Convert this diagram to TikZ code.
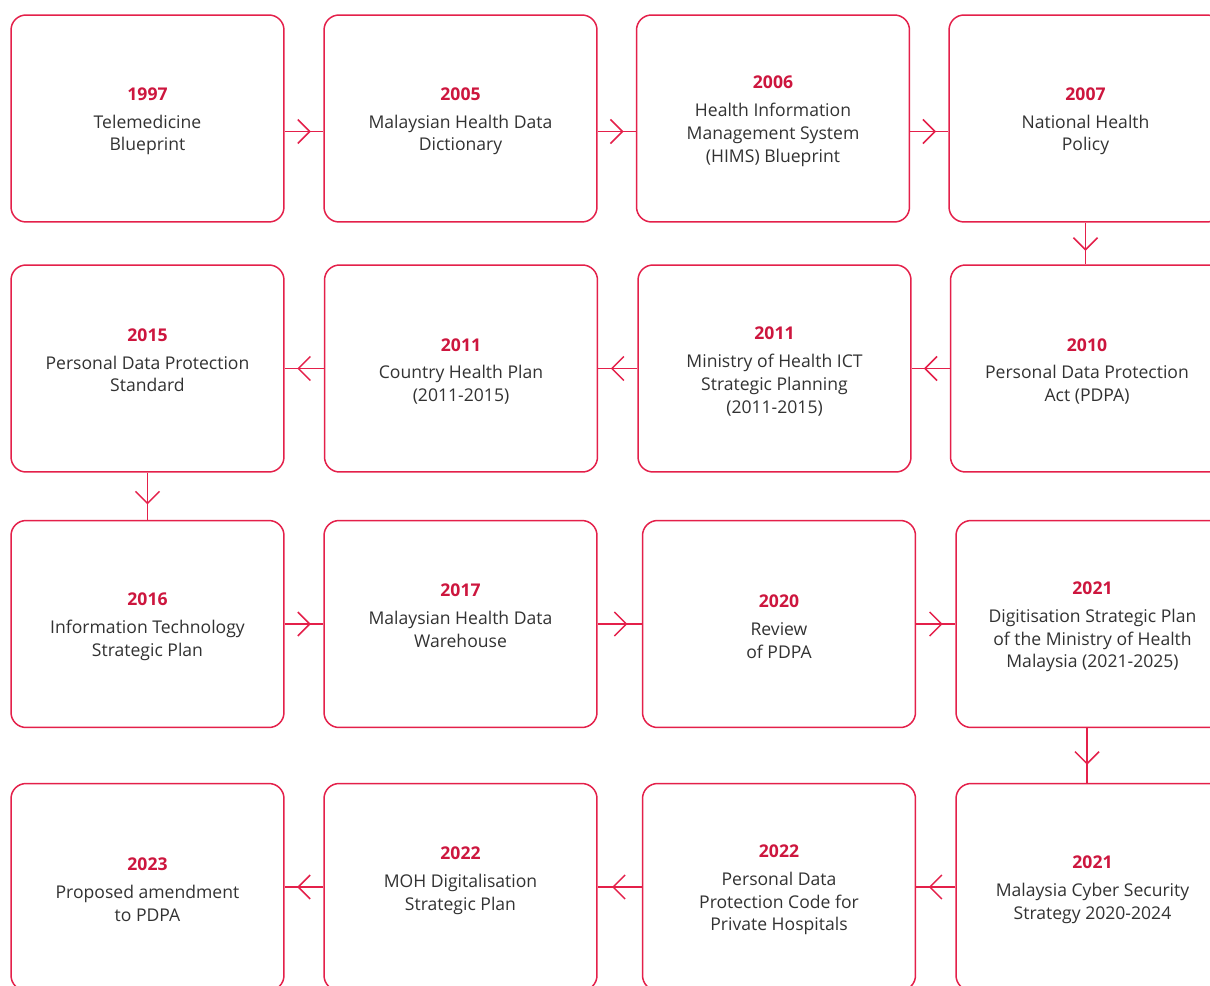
\documentclass[tikz,border=0pt]{standalone}
\usepackage{fontspec}
\setmainfont{Open Sans}
\usetikzlibrary{decorations.markings}
\definecolor{boxred}{RGB}{228,32,74}
\definecolor{yearred}{RGB}{205,22,62}
\definecolor{bodygray}{RGB}{50,50,50}
\tikzstyle{event} = [draw=boxred, line width=0.85pt, rounded corners=0.3cm, minimum width=5.46cm, minimum height=4.14cm, inner sep=0pt, align=center, text=bodygray, font=\fontsize{10}{13}\selectfont]
\tikzstyle{lifted} = [text depth=0.45cm]
\tikzstyle{arrow} = [draw=boxred, line width=0.85pt, postaction={decorate}, decoration={markings, mark=at position 0.65 with {\draw[boxred, line width=0.85pt] (-12,12) -- (0,0) -- (-12,-12);}}]
\newcommand{\yr}[1]{{\rule{0pt}{10.6pt}\color{yearred}\bfseries #1}\\[2.8pt]}

\begin{document}
\begin{tikzpicture}[x=0.02cm, y=-0.02cm]
        \useasboundingbox (0,0) rectangle (1210,986);
        \fill [white] (0,0) rectangle (1210,986);
        \clip (0,0) rectangle (1210,986);
        
        %first row, left to right
        \node at (147.5,118.5) [event] (b1) {\yr{1997}Telemedicine\\Blueprint};
        \node at (460.5,118.5) [event] (b2) {\yr{2005}Malaysian Health Data\\Dictionary};
        \node at (773,118.5) [event] (b3) {\yr{2006}Health Information\\Management System\\(HIMS) Blueprint};
        \node at (1085.5,118.5) [event] (b4) {\yr{2007}National Health\\Policy};
        
        %second row, right to left
        \node at (1087,368.5) [event] (b5) {\yr{2010}Personal Data Protection\\Act (PDPA)};
        \node at (774.5,368.5) [event] (b6) {\yr{2011}Ministry of Health ICT\\Strategic Planning\\(2011-2015)};
        \node at (461,368.5) [event] (b7) {\yr{2011}Country Health Plan\\(2011-2015)};
        \node at (147.5,368.5) [event, lifted] (b8) {\yr{2015}Personal Data Protection\\Standard};
        
        %third row, left to right
        \node at (147.5,624) [event] (b9) {\yr{2016}Information Technology\\Strategic Plan};
        \node at (460.5,624) [event, lifted] (b10) {\yr{2017}Malaysian Health Data\\Warehouse};
        \node at (779,624) [event] (b11) {\yr{2020}Review\\of PDPA};
        \node at (1092.5,624) [event] (b12) {\yr{2021}Digitisation Strategic Plan\\of the Ministry of Health\\Malaysia (2021-2025)};
        
        %fourth row, right to left
        \node at (1092.5,887) [event] (b13) {\yr{2021}Malaysia Cyber Security\\Strategy 2020-2024};
        \node at (779,887) [event] (b14) {\yr{2022}Personal Data\\Protection Code for\\Private Hospitals};
        \node at (460.5,887) [event, lifted] (b15) {\yr{2022}MOH Digitalisation\\Strategic Plan};
        \node at (147.5,887) [event] (b16) {\yr{2023}Proposed amendment\\to PDPA};
        
        %Arrows
        \draw [arrow] ([yshift=-0.26cm]b1.east) -- ([yshift=-0.26cm]b2.west);
        \draw [arrow] ([yshift=-0.26cm]b2.east) -- ([yshift=-0.26cm]b3.west);
        \draw [arrow] ([yshift=-0.26cm]b3.east) -- ([yshift=-0.26cm]b4.west);
        \draw [arrow] (b4.south) -- (b4.south |- b5.north);
        \draw [arrow] (b5) -- (b6);
        \draw [arrow] (b6) -- (b7);
        \draw [arrow] (b7) -- (b8);
        \draw [arrow] (b8) -- (b9);
        \draw [arrow] (b9) -- (b10);
        \draw [arrow] (b10) -- (b11);
        \draw [arrow] (b11) -- (b12);
        \draw [arrow] ([xshift=-0.11cm]b12.south) -- ([xshift=-0.11cm]b13.north);
        \draw [arrow] (b13) -- (b14);
        \draw [arrow] (b14) -- (b15);
        \draw [arrow] (b15) -- (b16);
    
    \end{tikzpicture}
\end{document}
